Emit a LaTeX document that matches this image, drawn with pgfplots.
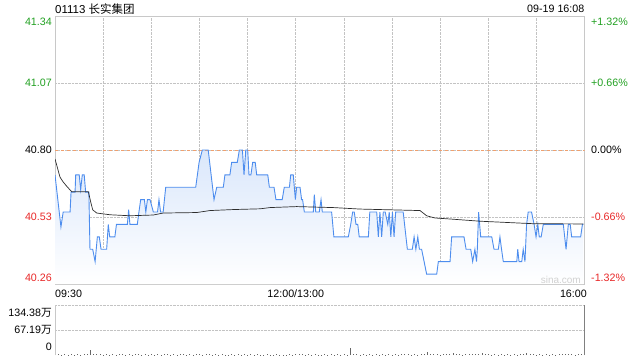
\documentclass[border=0pt]{standalone}
\usepackage{pgfplots}
\pgfplotsset{compat=1.18}
\usepackage{pgfplotstable}
\usepackage{fontspec}
\setmainfont{Liberation Sans}
\newfontfamily\cjk{Noto Sans CJK SC}
\definecolor{cgreen}{RGB}{34,160,34}
\definecolor{cred}{RGB}{232,40,40}
\definecolor{cblue}{RGB}{77,141,238}
\definecolor{cfill}{RGB}{218,231,251}
\definecolor{corange}{RGB}{240,160,110}
\definecolor{cgrid}{RGB}{195,195,195}
\definecolor{cborder}{RGB}{200,200,200}
\definecolor{cavg}{RGB}{45,45,45}

\pgfplotstableread{
t p
0 40.70
3.7 40.49
5.1 40.55
9.4 40.55
10.0 40.63
12.5 40.63
12.9 40.70
15.1 40.70
16.0 40.64
17.0 40.70
18.2 40.70
19.1 40.63
21.1 40.63
21.8 40.40
23.5 40.40
25.0 40.35
26.4 40.45
27.6 40.45
28.7 40.40
32.2 40.40
33.2 40.50
34.1 40.45
37.3 40.45
38.3 40.50
45.1 40.50
45.9 40.56
46.7 40.50
51.3 40.50
52.3 40.55
53.4 40.60
55.7 40.60
56.6 40.55
57.6 40.60
59.2 40.60
61.3 40.55
63.9 40.55
64.8 40.60
65.8 40.55
67.4 40.55
69.0 40.65
87.7 40.65
89.8 40.75
91.8 40.80
95.5 40.80
99.1 40.60
100.8 40.65
104.9 40.65
105.9 40.70
109.0 40.70
110.1 40.75
113.6 40.75
114.9 40.80
116.8 40.80
117.8 40.70
118.9 40.80
120.1 40.80
120.9 40.70
122.1 40.70
123.2 40.75
124.8 40.75
125.7 40.70
132.6 40.70
133.6 40.65
136.5 40.65
137.7 40.60
141.6 40.60
142.9 40.65
146.1 40.65
146.9 40.70
148.5 40.70
149.8 40.60
150.6 40.65
152.7 40.65
153.7 40.60
154.3 40.60
155.4 40.55
161.0 40.55
161.6 40.62
162.5 40.55
164.7 40.55
165.8 40.60
166.6 40.55
172.4 40.55
173.8 40.45
182.8 40.45
184.3 40.50
185.5 40.55
186.5 40.55
187.6 40.50
188.7 40.50
189.6 40.45
195.3 40.45
196.2 40.55
200.5 40.55
201.5 40.45
202.5 40.55
203.6 40.45
204.6 40.55
205.8 40.55
207.4 40.50
208.3 40.55
209.3 40.45
210.3 40.55
211.3 40.45
212.3 40.55
217.0 40.55
219.6 40.40
222.7 40.40
223.8 40.45
224.9 40.40
226.1 40.45
227.1 40.40
228.5 40.40
231.6 40.30
237.9 40.30
238.9 40.35
246.2 40.35
247.2 40.45
254.9 40.45
256.2 40.40
259.1 40.40
260.3 40.35
261.7 40.40
262.7 40.35
263.2 40.40
264.0 40.55
265.3 40.45
272.2 40.45
273.6 40.40
276.3 40.40
277.3 40.45
278.3 40.40
279.4 40.35
287.8 40.35
288.4 40.40
289.2 40.35
290.9 40.35
291.8 40.40
292.9 40.35
293.9 40.50
294.9 40.55
297.0 40.55
298.6 40.50
299.8 40.45
300.9 40.50
301.8 40.45
303.0 40.45
304.3 40.50
316.8 40.50
318.5 40.40
319.9 40.50
321.1 40.50
322.0 40.45
327.6 40.45
328.7 40.50
329.3 40.50
}\price

\pgfplotstableread{
t p
0 40.764
3.1 40.691
5.1 40.671
7.7 40.651
10.4 40.632
20.8 40.632
22.2 40.592
23.5 40.559
26.0 40.546
34.3 40.539
46.7 40.535
61.3 40.538
67.4 40.546
88.3 40.548
96.6 40.556
111.1 40.560
127.8 40.563
134.0 40.568
150.6 40.572
173.4 40.568
190.1 40.562
227.5 40.556
231.6 40.535
236.8 40.526
246.2 40.522
252.4 40.519
265.0 40.513
298.1 40.503
329.3 40.502
}\avgp

\pgfplotstableread{
t v
0 3
2 1.5
4 1
6 2
8 1.2
10 1.8
12 1
14 2.2
16 1.3
18 1.6
20 2
22 14
24 3
26 1.5
28 2
30 1.2
32 1.8
34 1
36 2.4
38 1.1
40 1.5
42 2
44 1.3
46 1.8
48 1
50 1.6
52 2.5
54 1.2
56 1.4
58 1
60 2
62 1.3
64 1.8
66 1
68 2.2
70 1.5
72 1.1
74 1.7
76 1
78 1.4
80 2
82 1.2
84 1.6
86 1
88 2.3
90 1.8
92 1.2
94 2
96 1.4
98 1
100 1.5
102 1.2
104 1.8
106 1
108 1.3
110 2
112 1.1
114 1.6
116 1.2
118 1.9
120 1
122 1.4
124 1.1
126 1.7
128 1
130 1.3
132 1.6
134 1
136 1.2
138 1.5
140 1
142 1.3
144 1.1
146 1.5
148 1.2
150 2.5
152 1.4
154 1.8
156 1.2
158 1.5
160 1.1
162 1.7
164 1.3
166 1
168 1.6
170 1.2
172 1.4
174 1
176 1.5
178 1.2
180 1.8
182 1.3
184 20
186 2
188 1.5
190 1.2
192 1.8
194 1
196 1.4
198 1.2
200 1.6
202 1
204 1.5
206 1.3
208 1.8
210 1.2
212 1.6
214 1
216 1.4
218 2
220 1.5
222 1.2
224 1.7
226 1
228 1.6
230 2.5
232 8
234 3
236 2
238 1.5
240 1.2
242 2.2
244 1.4
246 3
248 5
250 2
252 1.5
254 1.2
256 2
258 1.4
260 1.8
262 2
264 3
266 6
268 2.5
270 1.5
272 1.2
274 1.8
276 1.3
278 1.5
280 1.1
282 1.6
284 1.3
286 1.8
288 1.2
290 1.5
292 2
294 6
296 2.5
298 1.5
300 1.2
302 1.8
304 1.3
306 1.5
308 1.1
310 1.6
312 1.3
314 1.8
316 2
318 4
320 2
322 1.5
324 1.2
326 1.8
328 2.2
330 1.5
}\vol

\begin{document}
\fontsize{10.7pt}{12pt}\selectfont
\begin{tikzpicture}[x=1pt,y=1pt]
\useasboundingbox (0,0) rectangle (640,360);
% main price axis
\begin{axis}[
  at={(55pt,76pt)}, anchor=south west,
  scale only axis, width=529.5pt, height=268pt,
  xmin=0, xmax=330, ymin=40.26, ymax=41.34,
  xtick={0,30,...,330}, xticklabels={},
  ytick={40.26,40.53,40.80,41.07,41.34}, yticklabels={},
  major tick length=0pt,
  xmajorgrids, ymajorgrids,
  major grid style={cgrid, densely dotted, line width=0.6pt},
  axis line style={cborder, line width=0.7pt},
  clip=true,
]
\addplot[draw=none, top color=cfill, bottom color=white] table[x=t,y=p] {\price} \closedcycle;
\addplot[corange, dashed, line width=0.7pt] coordinates {(0,40.80) (330,40.80)};
\addplot[cblue, line width=0.9pt] table[x=t,y=p] {\price};
\addplot[cavg, line width=0.7pt] table[x=t,y=p] {\avgp};
\end{axis}
% volume axis
\begin{axis}[
  at={(55pt,5pt)}, anchor=south west,
  scale only axis, width=529.5pt, height=50pt,
  xmin=0, xmax=330, ymin=0, ymax=134.38,
  xtick=\empty, ytick={67.19,134.38}, yticklabels={},
  major tick length=0pt,
  ymajorgrids,
  major grid style={cgrid, densely dotted, line width=0.6pt},
  axis line style={draw=none},
  clip=false,
]
\addplot[ycomb, gray!80!black, line width=0.6pt, mark=none] table[x=t,y=v] {\vol};
\draw[cborder, line width=0.7pt] (rel axis cs:0,0) -- (rel axis cs:0,1);
\draw[gray, line width=0.8pt] (rel axis cs:1,0) -- (rel axis cs:1,1);
\end{axis}
% title
\node[anchor=west, inner sep=0pt] at (55,351) {\fontsize{11.5pt}{13pt}\selectfont 01113 {\cjk 长实集团}};
\node[anchor=east, inner sep=0pt] at (584.5,351) {\fontsize{10.7pt}{12pt}\selectfont 09-19 16:08};
% left price labels
\node[anchor=east, inner sep=0pt, text=cgreen] at (52,338) {41.34};
\node[anchor=east, inner sep=0pt, text=cgreen] at (52,277) {41.07};
\node[anchor=east, inner sep=0pt, text=black] at (52,210) {40.80};
\node[anchor=east, inner sep=0pt, text=cred] at (52,143) {40.53};
\node[anchor=east, inner sep=0pt, text=cred] at (52,82) {40.26};
% right percent labels
\node[anchor=west, inner sep=0pt, text=cgreen] at (591,338) {+1.32\%};
\node[anchor=west, inner sep=0pt, text=cgreen] at (591,277) {+0.66\%};
\node[anchor=west, inner sep=0pt, text=black] at (591,210) {0.00\%};
\node[anchor=west, inner sep=0pt, text=cred] at (591,143) {-0.66\%};
\node[anchor=west, inner sep=0pt, text=cred] at (591,82) {-1.32\%};
% time labels
\node[anchor=west, inner sep=0pt] at (55,66) {09:30};
\node[anchor=center, inner sep=0pt] at (295.7,66) {12:00/13:00};
\node[anchor=east, inner sep=0pt] at (587,66) {16:00};
% volume labels
\node[anchor=east, inner sep=0pt] at (52,47) {134.38{\cjk 万}};
\node[anchor=east, inner sep=0pt] at (52,30) {67.19{\cjk 万}};
\node[anchor=east, inner sep=0pt] at (52,13) {0};
% watermark
\node[anchor=east, inner sep=0pt, text=black!18] at (581,80) {\fontsize{10pt}{12pt}\selectfont sina.com};
\end{tikzpicture}
\end{document}
